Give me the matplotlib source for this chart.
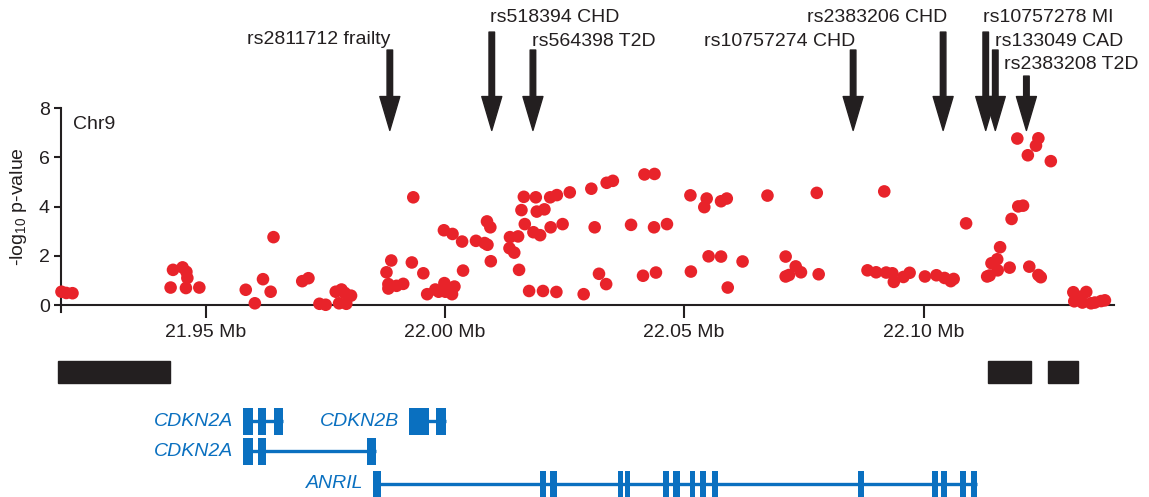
import matplotlib
matplotlib.use('Agg')
import matplotlib.pyplot as plt
from matplotlib.patches import Rectangle

plt.rcParams['font.family'] = ['Liberation Sans', 'DejaVu Sans']
plt.rcParams['mathtext.fontset'] = 'custom'
plt.rcParams['mathtext.rm'] = 'Liberation Sans'

# association results on chr9 (position in Mb, -log10 p)
pos = [21.9199, 21.9209, 21.9222, 21.9427, 21.9432, 21.9452, 21.9460, 21.9462, 21.9459, 21.9487,
       21.9584, 21.9603, 21.9620, 21.9636, 21.9642, 21.9702, 21.9715, 21.9738, 21.9751, 21.9772,
       21.9784, 21.9791, 21.9804, 21.9779, 21.9794, 21.9878, 21.9888, 21.9882, 21.9882, 21.9899,
       21.9913, 21.9934, 21.9931, 21.9955, 21.9963, 21.9980, 21.9999, 22.0001, 22.0015, 22.0020,
       21.9987, 21.9998, 22.0016, 22.0036, 22.0038, 22.0065, 22.0083, 22.0089, 22.0088, 22.0095,
       22.0096, 22.0136, 22.0153, 22.0135, 22.0145, 22.0155, 22.0165, 22.0190, 22.0220, 22.0234,
       22.0160, 22.0192, 22.0208, 22.0167, 22.0185, 22.0199, 22.0221, 22.0246, 22.0261, 22.0306,
       22.0338, 22.0351, 22.0313, 22.0389, 22.0437, 22.0464, 22.0417, 22.0438, 22.0176, 22.0205,
       22.0233, 22.0290, 22.0322, 22.0337, 22.0414, 22.0441, 22.0513, 22.0514, 22.0547, 22.0542,
       22.0577, 22.0589, 22.0551, 22.0577, 22.0591, 22.0622, 22.0674, 22.0777, 22.0918, 22.0712,
       22.0733, 22.0744, 22.0712, 22.0719, 22.0781, 22.0883, 22.0901, 22.0922, 22.0935, 22.0938,
       22.0958, 22.0971, 22.1003, 22.1027, 22.1044, 22.1057, 22.1063, 22.1089, 22.1196, 22.1240,
       22.1235, 22.1218, 22.1266, 22.1198, 22.1208, 22.1184, 22.1160, 22.1142, 22.1154, 22.1138,
       22.1155, 22.1133, 22.1180, 22.1221, 22.1240, 22.1245, 22.1313, 22.1340, 22.1315, 22.1332,
       22.1358, 22.1371, 22.1379, 22.1323, 22.1350]
logp = [0.54, 0.49, 0.48, 0.71, 1.43, 1.53, 1.35, 1.10, 0.69, 0.71,
        0.62, 0.07, 1.05, 0.54, 2.76, 0.97, 1.09, 0.05, 0.01, 0.54,
        0.63, 0.49, 0.38, 0.07, 0.05, 1.33, 1.81, 0.85, 0.67, 0.78,
        0.86, 4.38, 1.73, 1.29, 0.44, 0.63, 0.89, 0.54, 0.44, 0.75,
        0.54, 3.04, 2.89, 2.58, 1.40, 2.61, 2.52, 2.45, 3.40, 3.16,
        1.78, 2.76, 2.79, 2.31, 2.13, 1.43, 4.40, 4.38, 4.38, 4.47,
        3.86, 3.80, 3.89, 3.29, 2.96, 2.84, 3.16, 3.29, 4.58, 4.73,
        4.97, 5.05, 3.16, 3.26, 3.16, 3.29, 5.31, 5.33, 0.57, 0.57,
        0.53, 0.44, 1.27, 0.85, 1.19, 1.32, 4.46, 1.36, 4.33, 3.98,
        4.22, 4.33, 1.98, 1.97, 0.71, 1.77, 4.45, 4.56, 4.62, 1.97,
        1.57, 1.33, 1.16, 1.22, 1.25, 1.41, 1.33, 1.32, 1.29, 0.94,
        1.14, 1.31, 1.16, 1.21, 1.10, 0.97, 1.06, 3.32, 6.77, 6.78,
        6.48, 6.09, 5.85, 4.01, 4.04, 3.50, 2.35, 1.70, 1.86, 1.20,
        1.41, 1.16, 1.52, 1.56, 1.22, 1.13, 0.52, 0.53, 0.15, 0.10,
        0.10, 0.16, 0.19, 0.34, 0.07]

# reported GWAS hits
snp_names = ['rs2811712 frailty', 'rs518394 CHD', 'rs564398 T2D', 'rs10757274 CHD',
             'rs2383206 CHD', 'rs10757278 MI', 'rs133049 CAD', 'rs2383208 T2D']
snp_pos = [21.9885, 22.0098, 22.0184, 22.0853, 22.1041, 22.1130, 22.1150, 22.1215]

# LD blocks
ld_start = [21.9191, 22.1135, 22.1260]
ld_end = [21.9425, 22.1224, 22.1323]

# genes and exons (Mb)
gene_names = ['CDKN2A', 'CDKN2B', 'CDKN2A', 'ANRIL']
gene_exons = [
    [(21.9578, 21.9599), (21.9609, 21.9626), (21.9643, 21.9662)],
    [(21.9926, 21.9966), (21.9982, 22.0002)],
    [(21.9578, 21.9599), (21.9609, 21.9626), (21.9837, 21.9856)],
    [(21.9850, 21.9866), (22.0198, 22.0211), (22.0219, 22.0234), (22.0361, 22.0372),
     (22.0376, 22.0387), (22.0455, 22.0468), (22.0476, 22.0491), (22.0512, 22.0522),
     (22.0533, 22.0545), (22.0558, 22.0570), (22.0864, 22.0875), (22.1018, 22.1030),
     (22.1036, 22.1049), (22.1076, 22.1089), (22.1099, 22.1112)],
]

dark = '#231f20'
red = '#e8232a'
blue = '#0a70c0'

W, H = 1149, 497
fig = plt.figure(figsize=(W / 100, H / 100), dpi=100)
ax = fig.add_axes([61 / W, (H - 317.3) / H, 1053 / W, 209 / H])
ax.set_xlim(21.9198, 22.1398)
ax.set_ylim(-0.5, 8.0)

ax.scatter(pos, logp, s=82, color=red, edgecolors='none', zorder=3, clip_on=False)

for s in ['top', 'right']:
    ax.spines[s].set_visible(False)
ax.spines['bottom'].set_position(('data', 0))
ax.spines['left'].set_bounds(-0.28, 8)
for s in ['bottom', 'left']:
    ax.spines[s].set_linewidth(1.5)
    ax.spines[s].set_color(dark)

ax.set_xticks([21.95, 22.00, 22.05, 22.10])
ax.set_xticklabels(['21.95 Mb', '22.00 Mb', '22.05 Mb', '22.10 Mb'])
ax.set_yticks([0, 2, 4, 6, 8])
ax.tick_params(axis='x', direction='out', length=9.5, width=1.5, color=dark,
               labelsize=14, pad=4, labelcolor=dark)
ax.tick_params(axis='y', direction='out', length=5, width=1.5, color=dark,
               labelsize=14, pad=3, labelcolor=dark)
ax.set_ylabel(r'-log$_{10}$ p-value', fontsize=14, color=dark)
ax.yaxis.set_label_coords(-0.03, 0.53)

ax.text(21.9223, 7.35, 'Chr9', fontsize=14, va='center', color=dark)

# arrows to the GWAS hits
tops = [10.37, 11.10, 10.37, 10.37, 11.10, 11.10, 10.37, 9.31]
label_y = [10.78, 11.69, 10.73, 10.73, 11.71, 11.71, 10.73, 9.8]
label_ha = ['right', 'left', 'left', 'right', 'right', 'left', 'left', 'left']
label_dx = [0.0002, -0.0004, -0.0001, 0.0004, 0.0008, -0.0006, -0.0001, -0.0046]
for name, x, top, ly, ha, dx in zip(snp_names, snp_pos, tops, label_y, label_ha, label_dx):
    ax.annotate('', xy=(x, 7.1), xytext=(x, top), annotation_clip=False,
                arrowprops=dict(arrowstyle='simple,head_length=1.22,head_width=0.72,tail_width=0.2',
                                mutation_scale=20, color=dark, shrinkA=0, shrinkB=0))
    ax.text(x + dx, ly, name, ha=ha, va='center', fontsize=14, color=dark, clip_on=False)

# gene track below
gax = fig.add_axes([61 / W, 0, 1053 / W, (H - 340) / H])
gax.set_xlim(21.9198, 22.1398)
gax.set_ylim(H, 340)
gax.axis('off')

for s, e in zip(ld_start, ld_end):
    gax.add_patch(Rectangle((s, 361), e - s, 22, color=dark, clip_on=False))

row_y = [421, 421, 451, 484]
for name, exons, cy in zip(gene_names, gene_exons, row_y):
    gax.plot([exons[0][0], exons[-1][1]], [cy, cy], color=blue, lw=2.4,
             solid_capstyle='butt', clip_on=False)
    for s, e in exons:
        gax.add_patch(Rectangle((s, cy - 13.5), e - s, 27, color=blue, lw=0, clip_on=False))
    gax.text(exons[0][0] - 0.0021, cy, name, ha='right', va='center', fontsize=14,
             style='italic', color=blue)

fig.savefig('out.png', dpi=100)
